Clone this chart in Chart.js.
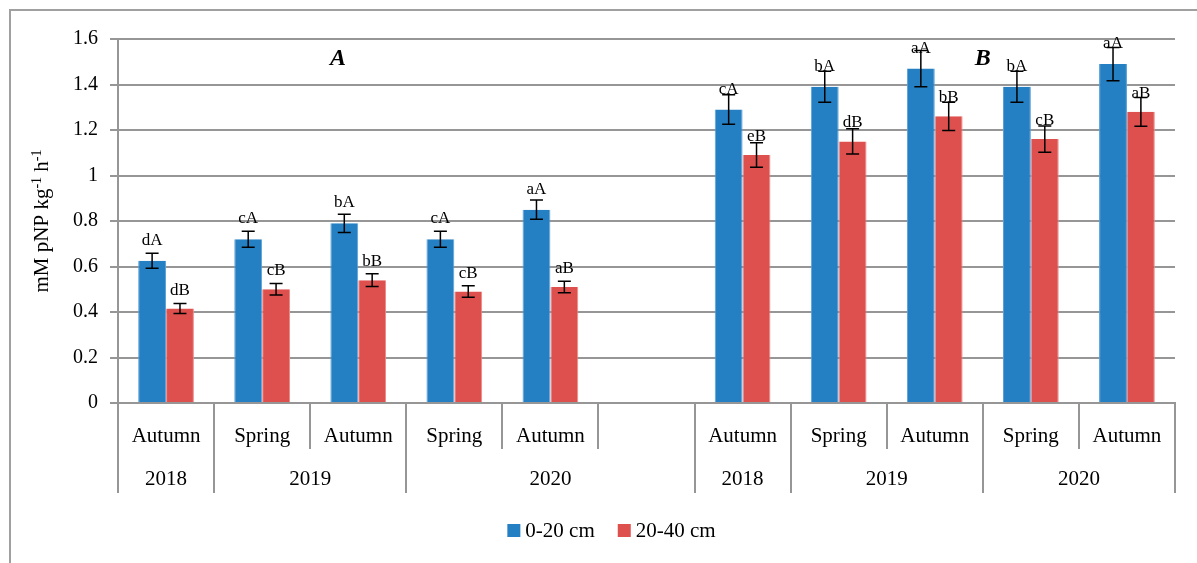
<!DOCTYPE html>
<html>
<head>
<meta charset="utf-8">
<script src="https://cdn.jsdelivr.net/npm/chart.js@4"></script>
<style>
  html, body { margin: 0; padding: 0; background: #fff; }
  #wrap { width: 1197px; height: 563px; position: relative; }
</style>
</head>
<body>
<div id="wrap"><canvas id="c" width="1197" height="563"></canvas></div>
<script>
// Sampling slots: five dates for panel A, an empty spacer, five dates for panel B
const seasons = ['Autumn', 'Spring', 'Autumn', 'Spring', 'Autumn', '', 'Autumn', 'Spring', 'Autumn', 'Spring', 'Autumn'];
// Year row: label and how many slots it covers
const yearLabels = ['2018', '2019', '2020', '2018', '2019', '2020'];
const yearSpans = [1, 2, 3, 1, 2, 2];

const seriesNames = ['0-20 cm', '20-40 cm'];
const depth0_20 = [0.625, 0.72, 0.79, 0.72, 0.85, null, 1.29, 1.39, 1.47, 1.39, 1.49];
const err0_20 = [0.033, 0.035, 0.04, 0.035, 0.042, null, 0.065, 0.068, 0.08, 0.068, 0.073];
const depth20_40 = [0.415, 0.50, 0.54, 0.49, 0.51, null, 1.09, 1.15, 1.26, 1.16, 1.28];
const err20_40 = [0.022, 0.025, 0.028, 0.025, 0.025, null, 0.054, 0.056, 0.062, 0.058, 0.063];
const letters0_20 = ['dA', 'cA', 'bA', 'cA', 'aA', '', 'cA', 'bA', 'aA', 'bA', 'aA'];
const letters20_40 = ['dB', 'cB', 'bB', 'cB', 'aB', '', 'eB', 'dB', 'bB', 'cB', 'aB'];

const yTicks = [0, 0.2, 0.4, 0.6, 0.8, 1, 1.2, 1.4, 1.6];
// Panel tags: text, slot position, y value
const panelTags = ['A', 'B'];
const panelTagSlots = [1.79, 8.5];
const panelTagY = [1.515, 1.515];

const SERIF = '"Liberation Serif", "DejaVu Serif", serif';
const GRID = '#969696';
const BLUE = '#2580c3';
const RED = '#dd504e';

// Outer frame of the figure
const framePlugin = {
  id: 'frame',
  beforeDraw(chart) {
    const ctx = chart.ctx;
    ctx.save();
    ctx.fillStyle = '#fff';
    ctx.fillRect(0, 0, chart.width, chart.height);
    ctx.strokeStyle = '#a0a0a0';
    ctx.lineWidth = 2;
    ctx.beginPath();
    ctx.moveTo(10, chart.height);
    ctx.lineTo(10, 10);
    ctx.lineTo(chart.width, 10);
    ctx.stroke();
    ctx.restore();
  }
};

// Error bars and significance letters on top of bars
const barExtrasPlugin = {
  id: 'barExtras',
  afterDatasetsDraw(chart) {
    const ctx = chart.ctx;
    const ys = chart.scales.y;
    const errs = [err0_20, err20_40];
    const letters = [letters0_20, letters20_40];
    const offsets = [16, 14];
    ctx.save();
    chart.data.datasets.forEach((ds, i) => {
      const meta = chart.getDatasetMeta(i);
      meta.data.forEach((el, j) => {
        const v = ds.data[j];
        if (v === null || v === undefined) return;
        const e = errs[i][j];
        const x = el.x;
        const yTop = ys.getPixelForValue(v + e);
        const yBot = ys.getPixelForValue(v - e);
        ctx.strokeStyle = '#000';
        ctx.lineWidth = 1.5;
        ctx.beginPath();
        ctx.moveTo(x, yTop); ctx.lineTo(x, yBot);
        ctx.moveTo(x - 6.5, yTop); ctx.lineTo(x + 6.5, yTop);
        ctx.moveTo(x - 6.5, yBot); ctx.lineTo(x + 6.5, yBot);
        ctx.stroke();
        ctx.fillStyle = '#000';
        ctx.font = '17px ' + SERIF;
        ctx.textAlign = 'center';
        ctx.textBaseline = 'alphabetic';
        ctx.fillText(letters[i][j], x, el.y - offsets[i]);
      });
    });
    // Panel tags
    const xs = chart.scales.x;
    ctx.font = 'italic bold 24px ' + SERIF;
    ctx.textAlign = 'center';
    ctx.textBaseline = 'middle';
    panelTags.forEach((t, k) => {
      ctx.fillText(t, xs.getPixelForValue(panelTagSlots[k]), ys.getPixelForValue(panelTagY[k]));
    });
    ctx.restore();
  }
};

// Two-row category table under the plot, y-axis title and legend
const axisTablePlugin = {
  id: 'axisTable',
  afterDraw(chart) {
    const ctx = chart.ctx;
    const xs = chart.scales.x;
    const area = chart.chartArea;
    const n = seasons.length;
    const y0 = area.bottom;
    const rowMid = y0 + 46;
    const rowEnd = y0 + 90;
    ctx.save();
    ctx.strokeStyle = GRID;
    ctx.lineWidth = 2;
    // boundaries that close a year group run through both rows
    const fullBounds = new Set([0]);
    let acc = 0;
    yearSpans.forEach(s => { acc += s; fullBounds.add(acc); });
    for (let b = 0; b <= n; b++) {
      const x = Math.round(xs.getPixelForValue(b - 0.5));
      ctx.beginPath();
      ctx.moveTo(x, y0);
      ctx.lineTo(x, fullBounds.has(b) ? rowEnd : rowMid);
      ctx.stroke();
    }
    ctx.fillStyle = '#000';
    ctx.font = '21px ' + SERIF;
    ctx.textAlign = 'center';
    ctx.textBaseline = 'middle';
    seasons.forEach((s, i) => {
      ctx.fillText(s, xs.getPixelForValue(i), y0 + 33);
    });
    let start = 0;
    yearLabels.forEach((lab, k) => {
      const mid = (start + start + yearSpans[k] - 1) / 2;
      ctx.fillText(lab, xs.getPixelForValue(mid), y0 + 76);
      start += yearSpans[k];
    });

    // y-axis title with superscripts
    ctx.save();
    const cy = (area.top + area.bottom) / 2;
    ctx.translate(41, cy);
    ctx.rotate(-Math.PI / 2);
    const parts = [['mM pNP kg', false], ['-1', true], [' h', false], ['-1', true]];
    const fMain = '21px ' + SERIF;
    const fSup = '14px ' + SERIF;
    let total = 0;
    parts.forEach(p => { ctx.font = p[1] ? fSup : fMain; total += ctx.measureText(p[0]).width; });
    let px = -total / 2;
    ctx.textAlign = 'left';
    ctx.textBaseline = 'alphabetic';
    parts.forEach(p => {
      ctx.font = p[1] ? fSup : fMain;
      ctx.fillText(p[0], px, p[1] ? 0 : 7);
      px += ctx.measureText(p[0]).width;
    });
    ctx.restore();

    // legend
    const colors = [BLUE, RED];
    ctx.font = '21px ' + SERIF;
    const box = 13, gapBox = 5, gapItem = 23;
    const widths = seriesNames.map(s => ctx.measureText(s).width);
    const totalW = widths.reduce((a, w) => a + box + gapBox + w, 0) + gapItem;
    let lx = 611.5 - totalW / 2;
    const ly = 530.5;
    ctx.textAlign = 'left';
    ctx.textBaseline = 'middle';
    seriesNames.forEach((s, i) => {
      ctx.fillStyle = colors[i];
      ctx.fillRect(lx, ly - box / 2, box, box);
      ctx.fillStyle = '#000';
      ctx.fillText(s, lx + box + gapBox, ly + 1);
      lx += box + gapBox + widths[i] + gapItem;
    });
    ctx.restore();
  }
};

new Chart(document.getElementById('c'), {
  type: 'bar',
  data: {
    labels: seasons,
    datasets: [
      { label: seriesNames[0], data: depth0_20, backgroundColor: BLUE, borderColor: '#5aa0d8', borderWidth: { left: 1, right: 1 } },
      { label: seriesNames[1], data: depth20_40, backgroundColor: RED, borderColor: '#ec8a88', borderWidth: { left: 1, right: 1 } }
    ]
  },
  options: {
    responsive: false,
    animation: false,
    events: [],
    layout: { padding: { top: 39, left: 0, right: 22, bottom: 70 } },
    datasets: { bar: { categoryPercentage: 0.58, barPercentage: 1.0 } },
    plugins: { legend: { display: false }, tooltip: { enabled: false } },
    scales: {
      x: {
        ticks: { display: false },
        grid: { display: false },
        border: { display: true, color: GRID, width: 2 },
        afterFit(scale) { scale.height = 90; }
      },
      y: {
        min: 0,
        max: 1.6,
        afterBuildTicks(scale) { scale.ticks = yTicks.map(v => ({ value: v })); },
        ticks: {
          padding: 12,
          color: '#000',
          font: { family: SERIF, size: 20 },
          callback: v => String(+v.toFixed(1))
        },
        grid: { color: GRID, lineWidth: 2, tickLength: 8 },
        border: { display: true, color: GRID, width: 2 },
        afterFit(scale) { scale.width = 118; }
      }
    }
  },
  plugins: [framePlugin, barExtrasPlugin, axisTablePlugin]
});
</script>
</body>
</html>
